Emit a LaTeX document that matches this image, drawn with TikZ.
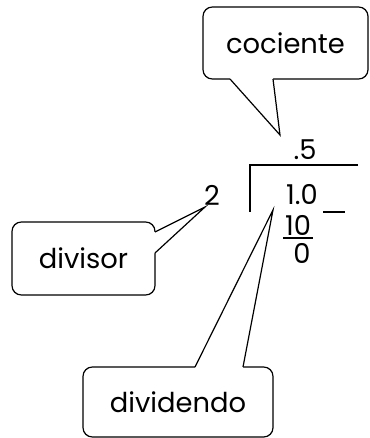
\documentclass[tikz,border=0pt]{standalone}
\usepackage{fontspec}
\setmainfont{Poppins}
\begin{document}
\begin{tikzpicture}[
    x=0.75pt, y=-0.75pt,
    every node/.style={font=\fontsize{20.5}{24}\selectfont},
    bubble/.style={draw, fill=white, rounded corners=7pt, line width=0.9pt, inner sep=0pt},
    pointer/.style={line width=0.9pt, line join=miter},
    figure/.style={inner sep=0pt},
    rule/.style={line width=1pt}
]
\useasboundingbox (0,0) rectangle (370,438);

% Division
\node[figure] (quot) at (305,150) {.5};
\node[figure] (dvs) at (212,195) {2};
\node[figure] (dvd) at (302,195) {1.0};
\node[figure] (prod) at (298,225) {10};
\node[figure] (rest) at (302,253) {0};

\draw[rule] (358,165) -- (250,165) -- (250,212);
\draw[rule] (323,212) -- (345,212);
\draw[rule] (283,238) -- (313,238);

% Callouts
\node[bubble, minimum width=123.75pt, minimum height=54pt] (coc) at (285.5,43) {cociente};
\node[bubble, minimum width=107.25pt, minimum height=54.75pt] (dvr) at (83.5,258.5) {divisor};
\node[bubble, minimum width=142.5pt, minimum height=52.5pt] (dvn) at (178,402) {dividendo};

\coordinate (coctip) at (280,135);
\coordinate (dvrtip) at (205,207);
\coordinate (dvntip) at (273,210);

% Pointers
\fill[white] (230,79) -- (coctip) -- (273,79) -- (273,75) -- (230,75) -- cycle;
\draw[pointer] (230,79) -- (coctip) -- (273,79);
\fill[white] (155,232) -- (dvrtip) -- (155,253) -- (151,253) -- (151,232) -- cycle;
\draw[pointer] (155,232) -- (dvrtip) -- (155,253);
\fill[white] (195,367) -- (dvntip) -- (243,367) -- (243,371) -- (195,371) -- cycle;
\draw[pointer] (195,367) -- (dvntip) -- (243,367);

\end{tikzpicture}
\end{document}
